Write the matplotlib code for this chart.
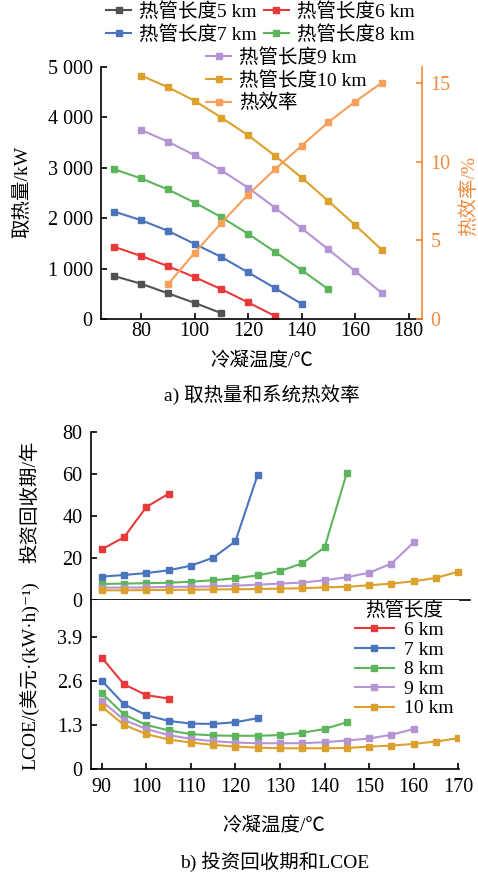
import matplotlib
matplotlib.use('Agg')
import matplotlib.pyplot as plt

plt.rcParams['font.family'] = ['Liberation Serif', 'Noto Sans CJK SC', 'DejaVu Sans']
plt.rcParams['font.size'] = 14
plt.rcParams['axes.unicode_minus'] = False

# ---- data: a) heat extraction and thermal efficiency ----
temp_a = [70, 80, 90, 100, 110, 120, 130, 140, 150, 160, 170]
heat_5km = [850, 700, 510, 320, 115]
heat_6km = [1430, 1250, 1050, 830, 590, 330, 60]
heat_7km = [2130, 1960, 1750, 1490, 1230, 925, 615, 300]
heat_8km = [2970, 2790, 2570, 2310, 2020, 1690, 1335, 970, 590]
heat_9km = [3750, 3520, 3250, 2950, 2605, 2210, 1800, 1380, 950, 515]
heat_10km = [4830, 4600, 4330, 3995, 3645, 3240, 2805, 2340, 1865, 1370]
eff_temp = [90, 100, 110, 120, 130, 140, 150, 160, 170]
eff = [2.2, 4.2, 6.1, 7.9, 9.5, 11.0, 12.5, 13.8, 15.0]

# ---- data: b) payback period and LCOE ----
temp_b = [90, 95, 100, 105, 110, 115, 120, 125, 130, 135, 140, 145, 150, 155, 160, 165, 170]
pay_6km = [24.1, 29.8, 44.2, 50.5]
pay_7km = [11.1, 11.9, 12.8, 14.1, 16.3, 20.1, 27.9, 59.6]
pay_8km = [7.6, 7.8, 8.0, 8.2, 8.7, 9.4, 10.3, 11.7, 13.8, 17.4, 25.0, 60.5]
pay_9km = [5.9, 5.9, 6.0, 6.2, 6.3, 6.5, 6.8, 7.3, 7.8, 8.3, 9.4, 10.8, 13.0, 17.3, 27.4]
pay_10km = [4.6, 4.6, 4.7, 4.8, 4.9, 5.0, 5.1, 5.2, 5.4, 5.6, 6.0, 6.3, 7.0, 7.8, 8.9, 10.5, 13.5]
lcoe_6km = [3.30, 2.51, 2.19, 2.09]
lcoe_7km = [2.62, 1.92, 1.60, 1.43, 1.35, 1.34, 1.39, 1.51]
lcoe_8km = [2.25, 1.62, 1.31, 1.15, 1.04, 1.00, 0.99, 0.99, 1.01, 1.08, 1.19, 1.39]
lcoe_9km = [2.02, 1.46, 1.19, 1.01, 0.90, 0.83, 0.79, 0.77, 0.77, 0.77, 0.80, 0.85, 0.91, 1.02, 1.19]
lcoe_10km = [1.85, 1.31, 1.04, 0.88, 0.79, 0.72, 0.67, 0.64, 0.62, 0.62, 0.62, 0.63, 0.67, 0.70, 0.75, 0.82, 0.92]

heat_ticks = [0, 1000, 2000, 3000, 4000, 5000]
heat_ticklabels = ['0', '1 000', '2 000', '3 000', '4 000', '5 000']
length_labels = ['6 km', '7 km', '8 km', '9 km', '10 km']

c5, c6, c7, c8, c9, c10 = '#525252', '#e8393a', '#4a74bc', '#5db55b', '#b594d4', '#dca12c'
c_eff = '#f6a05a'
c_axis = '#f08a3c'
TICK_FS = 14.5

W, H = 478, 872
fig = plt.figure(figsize=(W / 100, H / 100), dpi=100)


def box(l, t, r, b):
    return [l / W, 1 - b / H, (r - l) / W, (b - t) / H]


def ftext(x, y, s, **kw):
    fig.text(x / W, 1 - y / H, s, ha='center', va='center', **kw)


mk = dict(marker='s', markersize=4, linewidth=1.5)

# ================= a) =================
ax1 = fig.add_axes(box(101, 67, 422, 319))
axr = ax1.twinx()

lines = []
for y, c, n in [(heat_5km, c5, '5'), (heat_6km, c6, '6'), (heat_7km, c7, '7'),
                (heat_8km, c8, '8'), (heat_9km, c9, '9'), (heat_10km, c10, '10')]:
    xs = temp_a[:len(y)] if n not in ('9', '10') else temp_a[1:1 + len(y)]
    l, = ax1.plot(xs, y, color=c, label='热管长度' + n + ' km', **mk)
    lines.append(l)
le, = axr.plot(eff_temp, eff, color=c_eff, label='热效率', **mk)

ax1.set_xlim(65, 185)
ax1.set_ylim(0, 5000)
ax1.set_xticks(range(80, 181, 20))
ax1.set_yticks(heat_ticks)
ax1.set_yticklabels(heat_ticklabels)
axr.set_ylim(0, 16)
axr.set_yticks([0, 5, 10, 15])
for s in ['top', 'right']:
    ax1.spines[s].set_visible(False)
for s in ['top', 'left', 'bottom']:
    axr.spines[s].set_visible(False)
axr.spines['right'].set_color(c_axis)
axr.tick_params(axis='y', colors=c_axis, direction='in', width=1.2, length=4,
                pad=6, labelsize=TICK_FS)
ax1.tick_params(axis='y', direction='in', width=1.2, length=4, pad=6, labelsize=TICK_FS)
ax1.tick_params(axis='x', direction='in', width=1.2, length=4, pad=2, labelsize=TICK_FS)
for s in ['left', 'bottom']:
    ax1.spines[s].set_linewidth(1.2)
axr.spines['right'].set_linewidth(1.2)

# rows: (5 km, 6 km), (7 km, 8 km)
leg1 = fig.legend(handles=[lines[0], lines[2], lines[1], lines[3]], ncol=2,
                  frameon=False, loc='upper left',
                  bbox_to_anchor=(106 / W, 1 - 2 / H), handlelength=1.3,
                  handletextpad=0.4, columnspacing=0.35, labelspacing=0.22,
                  borderpad=0, borderaxespad=0)
leg2 = fig.legend(handles=[lines[4], lines[5], le], frameon=False, loc='upper left',
                  bbox_to_anchor=(206 / W, 1 - 48 / H), handlelength=1.3,
                  handletextpad=0.4, labelspacing=0.22, borderpad=0, borderaxespad=0)

ftext(23, 192, '取热量/kW', rotation=90)
ftext(469, 196, '热效率/%', rotation=90, color=c_axis)
ftext(262, 360, '冷凝温度/℃')
ftext(262, 395, 'a) 取热量和系统热效率')

# ================= b) =================
xl = 87.53
scale = 4.4575
ax2 = fig.add_axes(box(90.7, 431.7, 470, 600))
ax3 = fig.add_axes(box(90.7, 600, 459, 769.3))

for y, c in [(pay_6km, c6), (pay_7km, c7), (pay_8km, c8), (pay_9km, c9), (pay_10km, c10)]:
    ax2.plot(temp_b[:len(y)], y, color=c, **mk)
bl = []
for y, c, lab in zip([lcoe_6km, lcoe_7km, lcoe_8km, lcoe_9km, lcoe_10km],
                     [c6, c7, c8, c9, c10], length_labels):
    l, = ax3.plot(temp_b[:len(y)], y, color=c, label=lab, **mk)
    bl.append(l)

ax2.set_xlim(xl, xl + (470 - 90.7) / scale)
ax2.set_ylim(0, 80)
ax2.set_yticks([0, 20, 40, 60, 80])
ax2.set_xticks([])
ax3.set_xlim(xl, xl + (459 - 90.7) / scale)
ax3.set_ylim(0, 5.0)
ax3.set_yticks([0, 1.3, 2.6, 3.9])
ax3.set_yticklabels(['0', '1.3', '2.6', '3.9'])
ax3.set_xticks(range(90, 171, 10))
for a in (ax2, ax3):
    a.spines['right'].set_visible(False)
    a.spines['top'].set_visible(False)
    a.spines['left'].set_linewidth(1.2)
    a.spines['bottom'].set_linewidth(1.2)
    a.tick_params(direction='in', width=1.2, length=4, pad=6, labelsize=TICK_FS)

ax3.legend(handles=bl, title='热管长度', frameon=False, loc='upper left',
           bbox_to_anchor=((355 - 90.7) / (459 - 90.7), 1 - 1 / 169.3),
           handlelength=2.0, handletextpad=0.5, labelspacing=0.1,
           borderpad=0, borderaxespad=0, title_fontsize=14)

ftext(30, 502, '投资回收期/年', rotation=90)
ftext(30, 676, 'LCOE/(美元·(kW·h)⁻¹)', rotation=90)
ftext(274, 825, '冷凝温度/℃')
ftext(275, 862, 'b) 投资回收期和LCOE')

fig.savefig('out.png', dpi=100)
